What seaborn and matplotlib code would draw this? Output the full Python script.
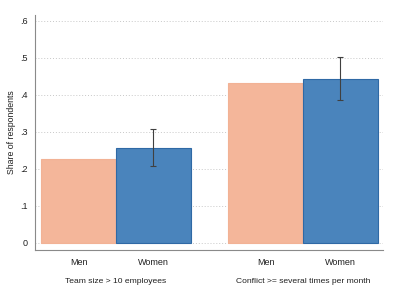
import numpy as np
import pandas as pd
import matplotlib
matplotlib.use('Agg')
import matplotlib.pyplot as plt
import matplotlib.transforms as mtransforms
import seaborn as sns

# Data
groups = ["Team size > 10 employees", "Conflict >= several times per month"]
sexes = ["Men", "Women"]
men_share = [0.227, 0.432]
women_share = [0.257, 0.443]
women_ci_low = [0.208, 0.386]
women_ci_high = [0.308, 0.503]
y_ticks = [0, 0.1, 0.2, 0.3, 0.4, 0.5, 0.6]
y_tick_labels = ["0", ".1", ".2", ".3", ".4", ".5", ".6"]

df = pd.DataFrame({
    "group": groups * 2,
    "sex": ["Men"] * 2 + ["Women"] * 2,
    "share": men_share + women_share,
})

sns.set_style("white")
plt.rcParams['font.family'] = ['Liberation Sans', 'DejaVu Sans']

fig = plt.figure(figsize=(4, 3), dpi=100)
ax = fig.add_axes([0.0875, 0.1667, 0.87, 0.7833])

palette = {"Men": "#f4b69a", "Women": "#4a84bc"}
sns.barplot(data=df, x="group", y="share", hue="sex", order=groups,
            hue_order=sexes, palette=palette, width=0.8, saturation=1,
            errorbar=None, legend=False, ax=ax)

# bar edges
for p in ax.patches:
    fc = p.get_facecolor()
    if abs(fc[0] - 0.29) < 0.05:
        p.set_edgecolor("#2f69a5")
    else:
        p.set_edgecolor("#f2b295")
    p.set_linewidth(0.8)

# error bars on the women bars
women_bars = [p for p in ax.patches if abs(p.get_facecolor()[0] - 0.29) < 0.05]
women_bars = sorted(women_bars, key=lambda p: p.get_x())
wx = [p.get_x() + p.get_width() / 2 for p in women_bars]
wy = np.array(women_share)
yerr = np.array([wy - np.array(women_ci_low), np.array(women_ci_high) - wy])
ax.errorbar(wx, wy, yerr=yerr, fmt='none', ecolor='#404040', elinewidth=0.8,
            capsize=2, capthick=0.8)

ax.set_xlim(-0.433, 1.428)
ax.set_ylim(-0.019, 0.616)
ax.set_yticks(y_ticks)
ax.set_yticklabels(y_tick_labels)
ax.yaxis.grid(True, linestyle=(0, (1, 2)), color='#c8c8c8', linewidth=0.7)
ax.set_axisbelow(True)

bar_w = 0.4
xt = []
for i in range(len(groups)):
    xt += [i - bar_w / 2, i + bar_w / 2]
ax.set_xticks(xt)
ax.set_xticklabels(sexes * len(groups))

trans = mtransforms.blended_transform_factory(ax.transData, ax.transAxes)
for i, g in enumerate(groups):
    ax.text(i, -0.133, g, transform=trans, ha='center', va='center',
            fontsize=6.1, color='#202020')

ax.set_xlabel("")
ax.set_ylabel("Share of respondents", fontsize=6.3, color='#202020', labelpad=3.5)

ax.tick_params(axis='both', labelsize=6.5, colors='#202020', length=3.5,
               width=0.6, pad=1.5)
ax.tick_params(axis='x', color='#c0c0c0', length=2.5, pad=3)
ax.tick_params(axis='y', color='#8a8a8a')

for s in ['top', 'right']:
    ax.spines[s].set_visible(False)
for s in ['left', 'bottom']:
    ax.spines[s].set_color('#8a8a8a')
    ax.spines[s].set_linewidth(0.8)

fig.savefig("out.png", dpi=100, facecolor='white')
